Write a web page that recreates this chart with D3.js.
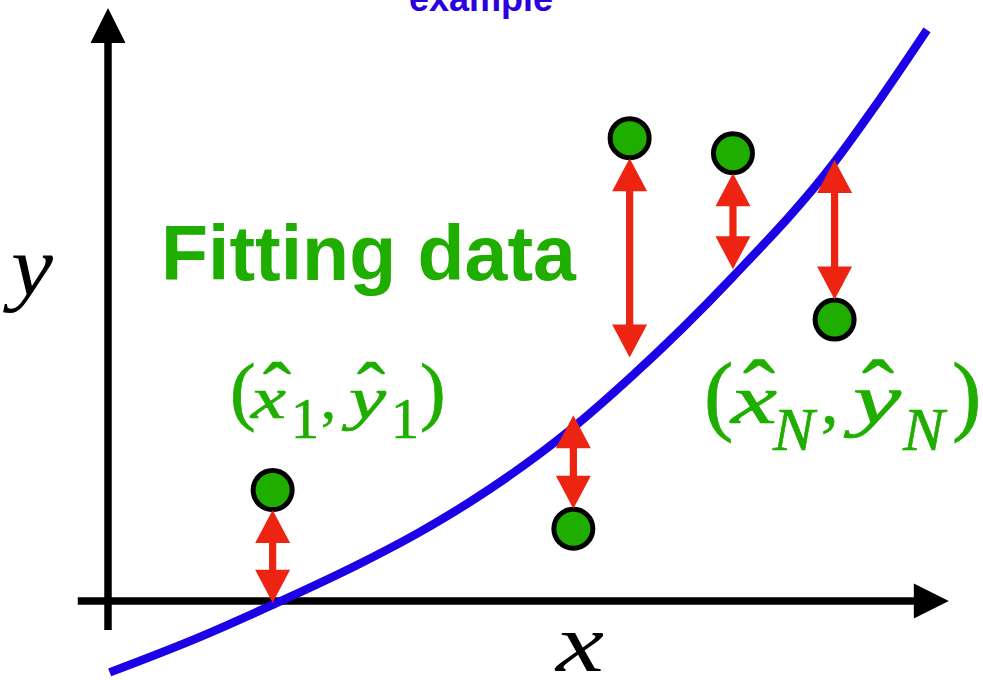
<!DOCTYPE html>
<html>
<head>
<meta charset="utf-8">
<script src="https://cdn.jsdelivr.net/npm/d3@7/dist/d3.min.js"></script>
<style>
  html, body { margin: 0; padding: 0; background: #fff; }
  svg { display: block; }
</style>
</head>
<body>
<svg id="chart" width="983" height="680"></svg>
<script>
// Observed data points (x̂_i, ŷ_i)
const pointX = [1.96, 5.54, 6.21, 7.44, 8.65];
const pointY = [1.32, 0.86, 5.51, 5.33, 3.35];
// Value of the fitted curve at each data point's x (end of each residual arrow)
const fitAtPoint = [-0.02, 2.21, 2.90, 3.95, 5.25];
// Fitted curve, sampled along x
const curveX = [0.02, 1.09, 1.95, 2.99, 3.71, 4.31, 5.52, 6.23, 7.44, 8.63, 9.11, 9.75];
const curveY = [-0.85, -0.43, -0.05, 0.44, 0.82, 1.18, 2.05, 2.67, 3.86, 5.20, 5.86, 6.80];
// Axis extents (data units)
const axisXRange = [-0.36, 10.01];
const axisYRange = [-0.345, 7.06];

const svg = d3.select("#chart");
const x = d3.scaleLinear().domain([0, 10]).range([108, 948]);
const y = d3.scaleLinear().domain([0, 7]).range([601, 13]);

const GREEN = "#1fae00";
const RED = "#ee2412";
const BLUE = "#1c00e6";
const SERIF = "'Liberation Serif', 'Times New Roman', serif";

// Title (sits partly above the top edge)
svg.append("text")
  .attr("x", 481).attr("y", 11)
  .attr("text-anchor", "middle")
  .attr("font-family", "'Liberation Sans', Arial, sans-serif")
  .attr("font-weight", "bold")
  .attr("font-size", 36)
  .attr("fill", "#2a00e0")
  .text("example");

// Axes with arrowheads
const axisW = 7.5, headL = 35, headHW = 17.5;
const axes = svg.append("g").attr("class", "axes");
axes.append("line")
  .attr("x1", x(axisXRange[0])).attr("x2", x(axisXRange[1]) - headL + 2)
  .attr("y1", y(0)).attr("y2", y(0))
  .attr("stroke", "#000").attr("stroke-width", axisW);
axes.append("path")
  .attr("d", d3.line()([
    [x(axisXRange[1]), y(0)],
    [x(axisXRange[1]) - headL, y(0) - headHW],
    [x(axisXRange[1]) - headL, y(0) + headHW]
  ]) + "Z")
  .attr("fill", "#000");
axes.append("line")
  .attr("x1", x(0)).attr("x2", x(0))
  .attr("y1", y(axisYRange[0])).attr("y2", y(axisYRange[1]) + headL - 2)
  .attr("stroke", "#000").attr("stroke-width", axisW);
axes.append("path")
  .attr("d", d3.line()([
    [x(0), y(axisYRange[1])],
    [x(0) - headHW, y(axisYRange[1]) + headL],
    [x(0) + headHW, y(axisYRange[1]) + headL]
  ]) + "Z")
  .attr("fill", "#000");

// Axis labels
svg.append("text")
  .attr("x", 11).attr("y", 295)
  .attr("font-family", SERIF)
  .attr("font-style", "italic")
  .attr("font-size", 84)
  .attr("textLength", 42).attr("lengthAdjust", "spacingAndGlyphs")
  .text("y");
svg.append("text")
  .attr("x", 556).attr("y", 671)
  .attr("font-family", SERIF)
  .attr("font-style", "italic")
  .attr("font-size", 82)
  .attr("textLength", 48).attr("lengthAdjust", "spacingAndGlyphs")
  .text("x");

// Fitted curve
const curvePts = curveX.map((d, i) => [d, curveY[i]]);
svg.append("path")
  .datum(curvePts)
  .attr("d", d3.line().x(d => x(d[0])).y(d => y(d[1])).curve(d3.curveMonotoneX))
  .attr("fill", "none")
  .attr("stroke", BLUE)
  .attr("stroke-width", 8.5)
  .attr("stroke-linecap", "butt");

// "Fitting data" caption
svg.append("text")
  .attr("x", 161).attr("y", 280)
  .attr("font-family", "'Liberation Sans', Arial, sans-serif")
  .attr("font-weight", "bold")
  .attr("font-size", 77)
  .attr("fill", GREEN)
  .text("Fitting data");

// Data points
const pts = pointX.map((d, i) => ({ x: d, y: pointY[i], fit: fitAtPoint[i] }));
const R = 19.5;
svg.append("g").selectAll("circle")
  .data(pts)
  .join("circle")
  .attr("cx", d => x(d.x))
  .attr("cy", d => y(d.y))
  .attr("r", R)
  .attr("fill", GREEN)
  .attr("stroke", "#000")
  .attr("stroke-width", 5);

// Residual arrows (double-headed), from the point's edge to the curve
function doubleArrow(px, y1, y2) {
  const s = Math.sign(y2 - y1);
  const h = 33, hw = 17.5, sw = 3.6;
  return d3.line()([
    [px, y1], [px + hw, y1 + s * h], [px + sw, y1 + s * h],
    [px + sw, y2 - s * h], [px + hw, y2 - s * h], [px, y2],
    [px - hw, y2 - s * h], [px - sw, y2 - s * h],
    [px - sw, y1 + s * h], [px - hw, y1 + s * h]
  ]) + "Z";
}
svg.append("g").selectAll("path")
  .data(pts)
  .join("path")
  .attr("d", d => {
    const cy = y(d.y), fy = y(d.fit);
    const start = cy + Math.sign(fy - cy) * 20;
    return doubleArrow(x(d.x), start, fy);
  })
  .attr("fill", RED);

// Point labels: (x̂_1, ŷ_1) and (x̂_N, ŷ_N)
function glyph(g, t, gx, gy, size, italic, width, anchor) {
  const el = g.append("text")
    .attr("x", gx).attr("y", gy)
    .attr("font-size", size)
    .attr("font-style", italic ? "italic" : "normal")
    .attr("text-anchor", anchor || "start")
    .text(t);
  if (width) el.attr("textLength", width).attr("lengthAdjust", "spacingAndGlyphs");
  return el;
}
function pointLabel(sub, L) {
  const g = svg.append("g")
    .attr("fill", GREEN)
    .attr("stroke", GREEN).attr("stroke-width", 0.7)
    .attr("font-family", SERIF);
  const subItalic = sub !== "1";
  glyph(g, "(", L.open, L.parenBase, L.parenSize, false);
  glyph(g, "x", L.x, L.base, L.size, true, L.xw);
  glyph(g, "\u02C6", L.hatX, L.base, L.hatSize, false, L.hatW, "middle");
  glyph(g, sub, L.sub1, L.subBase, L.subSize, subItalic);
  glyph(g, ",", L.comma, L.base, L.size, false);
  glyph(g, "y", L.y, L.base, L.size, true, L.yw);
  glyph(g, "\u02C6", L.hatY, L.base, L.hatSize, false, L.hatW, "middle");
  glyph(g, sub, L.sub2, L.subBase, L.subSize, subItalic);
  glyph(g, ")", L.close, L.parenBase, L.parenSize, false);
}
pointLabel("1", {
  open: 230, parenBase: 416, parenSize: 77,
  x: 251, base: 418, size: 60, xw: 35,
  hatX: 277, hatY: 371, hatSize: 80, hatW: 28,
  sub1: 291, comma: 321, y: 349, yw: 37, sub2: 391,
  subBase: 438, subSize: 56,
  close: 420
});
pointLabel("N", {
  open: 704, parenBase: 424, parenSize: 88,
  x: 731, base: 423, size: 70, xw: 46,
  hatX: 759, hatY: 878, hatSize: 92, hatW: 32,
  sub1: 773, comma: 821, y: 853, yw: 48, sub2: 903,
  subBase: 450, subSize: 62,
  close: 952
});
</script>
</body>
</html>
